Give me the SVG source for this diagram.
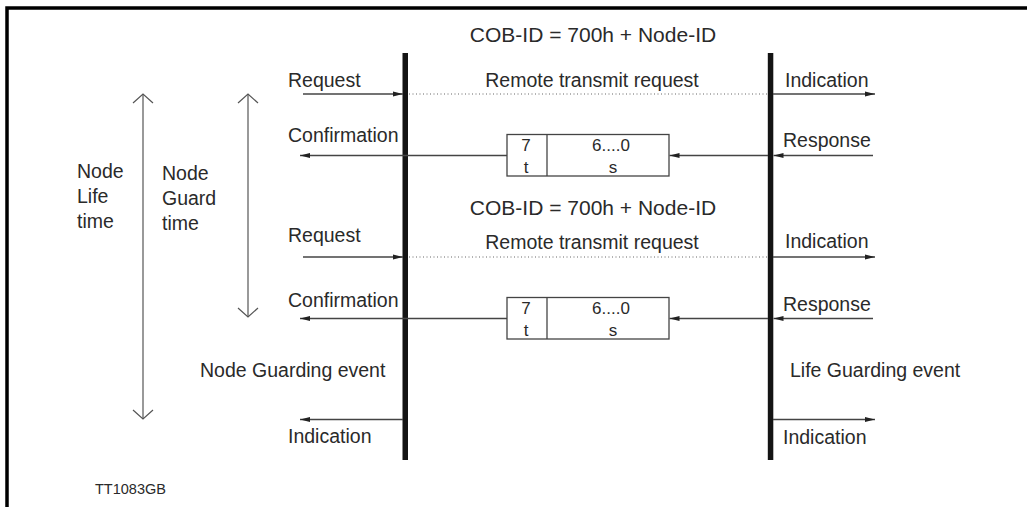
<svg xmlns="http://www.w3.org/2000/svg" width="1027" height="507" viewBox="0 0 1027 507">
<style>
.t{font-family:"Liberation Sans",Arial,sans-serif;font-size:19.5px;fill:#2a2a2a}
.c{font-family:"Liberation Sans",Arial,sans-serif;font-size:21px;fill:#2a2a2a;text-anchor:middle}
.s{font-family:"Liberation Sans",Arial,sans-serif;font-size:17px;fill:#2a2a2a;text-anchor:middle}
.f{font-family:"Liberation Sans",Arial,sans-serif;font-size:14.5px;fill:#2a2a2a}
.m{text-anchor:middle}
.ln{stroke:#444;stroke-width:1.5;fill:none}
.ar{stroke:#444;stroke-width:1.5;fill:none;marker-end:url(#ah)}
.dot{stroke:#666;stroke-width:1;stroke-dasharray:1 2.5;fill:none}
.open{stroke:#555;stroke-width:1.2;fill:none}
.bar{fill:#141414}
.box{fill:#fff;stroke:#444;stroke-width:1.3}
</style>
<defs>
<marker id="ah" markerUnits="userSpaceOnUse" markerWidth="12" markerHeight="8" refX="10" refY="4" orient="auto">
<path d="M0,1.6 L10,4 L0,6.4 Z" fill="#222"/>
</marker>
</defs>
<rect width="1027" height="507" fill="#fff"/>
<path d="M7,507 V8 H1027" fill="none" stroke="#000" stroke-width="3.5"/>

<g id="bar-left"><rect class="bar" x="402.5" y="53" width="5.5" height="407"/></g>
<g id="bar-right"><rect class="bar" x="767.8" y="53" width="5.5" height="407"/></g>

<g id="connectors">
<line class="ar" x1="303" y1="94" x2="403" y2="94"/>
<line class="dot" x1="409" y1="94" x2="768" y2="94"/>
<line class="ar" x1="773" y1="94" x2="875" y2="94"/>
<line class="ar" x1="507" y1="155.5" x2="300" y2="155.5"/>
<line class="ar" x1="768" y1="155.5" x2="669.5" y2="155.5"/>
<line class="ar" x1="873" y1="155.5" x2="773.5" y2="155.5"/>

<line class="ar" x1="303" y1="257" x2="403" y2="257"/>
<line class="dot" x1="409" y1="257" x2="768" y2="257"/>
<line class="ar" x1="773" y1="257" x2="875" y2="257"/>
<line class="ar" x1="507" y1="318.5" x2="300" y2="318.5"/>
<line class="ar" x1="768" y1="318.5" x2="669.5" y2="318.5"/>
<line class="ar" x1="873" y1="318.5" x2="773.5" y2="318.5"/>

<line class="ar" x1="403" y1="419.5" x2="300" y2="419.5"/>
<line class="ar" x1="773" y1="419.5" x2="875" y2="419.5"/>

<line class="open" x1="143" y1="94" x2="143" y2="419"/>
<polyline class="open" points="133,103 143,94 153,103"/>
<polyline class="open" points="133,410 143,419 153,410"/>
<line class="open" x1="248" y1="94" x2="248" y2="317"/>
<polyline class="open" points="238,103 248,94 258,103"/>
<polyline class="open" points="238,308 248,317 258,308"/>
</g>

<g id="box1">
<rect class="box" x="507" y="134.5" width="162" height="41.5"/>
<line class="ln" x1="547" y1="134.5" x2="547" y2="176" style="stroke-width:1.3"/>
<text class="s" x="526" y="150.5">7</text>
<text class="s" x="526" y="173">t</text>
<text class="s" x="611" y="150.5">6....0</text>
<text class="s" x="613" y="173">s</text>
</g>
<g id="box2">
<rect class="box" x="507" y="297.5" width="162" height="41.5"/>
<line class="ln" x1="547" y1="297.5" x2="547" y2="339" style="stroke-width:1.3"/>
<text class="s" x="526" y="313.5">7</text>
<text class="s" x="526" y="336">t</text>
<text class="s" x="611" y="313.5">6....0</text>
<text class="s" x="613" y="336">s</text>
</g>

<g id="labels">
<text class="c" x="593" y="42">COB-ID = 700h + Node-ID</text>
<text class="t m" x="592" y="87">Remote transmit request</text>
<text class="t" x="288" y="87">Request</text>
<text class="t" x="785" y="87">Indication</text>
<text class="t" x="288" y="142">Confirmation</text>
<text class="t" x="783" y="147">Response</text>

<text class="c" x="593" y="215">COB-ID = 700h + Node-ID</text>
<text class="t m" x="592" y="249">Remote transmit request</text>
<text class="t" x="288" y="242">Request</text>
<text class="t" x="785" y="248">Indication</text>
<text class="t" x="288" y="307">Confirmation</text>
<text class="t" x="783" y="311">Response</text>

<text class="t" x="200" y="377">Node Guarding event</text>
<text class="t" x="790" y="377">Life Guarding event</text>
<text class="t" x="288" y="443">Indication</text>
<text class="t" x="783" y="444">Indication</text>

<text class="t" x="77" y="178">Node</text>
<text class="t" x="77" y="203">Life</text>
<text class="t" x="77" y="228">time</text>
<text class="t" x="162" y="180">Node</text>
<text class="t" x="162" y="205">Guard</text>
<text class="t" x="162" y="230">time</text>

<text class="f" x="95" y="494">TT1083GB</text>
</g>
</svg>
